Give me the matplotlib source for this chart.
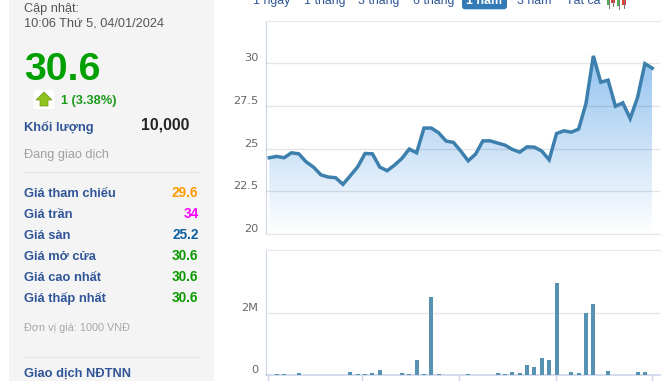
import matplotlib
matplotlib.use('Agg')
import matplotlib.pyplot as plt
from matplotlib.colors import LinearSegmentedColormap
from matplotlib.patches import Rectangle, FancyBboxPatch, Polygon
import numpy as np

W, H = 670, 381

# Gia co phieu theo tuan
price = [24.47, 24.55, 24.47, 24.76, 24.70, 24.23, 23.92, 23.47, 23.34, 23.30,
         22.91, 23.42, 23.94, 24.72, 24.70, 23.92, 23.71, 24.04, 24.43, 24.98,
         24.76, 26.21, 26.21, 25.93, 25.45, 25.37, 24.86, 24.29, 24.68, 25.46,
         25.46, 25.33, 25.21, 24.96, 24.80, 25.11, 25.09, 24.86, 24.35, 25.89,
         26.05, 25.97, 26.15, 27.65, 30.44, 28.90, 29.02, 27.49, 27.69, 26.77,
         28.00, 29.99, 29.72]

# Khoi luong (index, value)
vol_idx = [1, 2, 4, 11, 12, 13, 14, 15, 18, 19, 20, 21, 22, 23, 27, 31, 32, 33,
           34, 35, 36, 37, 38, 39, 41, 42, 43, 44, 46, 50, 51]
vol_val = [43e3, 43e3, 65e3, 107e3, 43e3, 43e3, 75e3, 172e3, 75e3, 43e3, 495e3,
           43e3, 2.527e6, 43e3, 32e3, 75e3, 43e3, 107e3, 75e3, 333e3, 269e3,
           559e3, 495e3, 2.98e6, 107e3, 75e3, 2.01e6, 2.30e6, 140e3, 107e3, 107e3]

price_ticks = [20, 22.5, 25, 27.5, 30]
price_labels = ['20', '22.5', '25', '27.5', '30']
vol_ticks = [0, 2e6]
vol_labels = ['0', '2M']
date_ticks = [-0.14, 12.63, 25.7, 38.9, 52]

info_labels = ['Giá tham chiếu', 'Giá trần', 'Giá sàn', 'Giá mở cửa', 'Giá cao nhất', 'Giá thấp nhất']
info_values = ['29.6', '34', '25.2', '30.6', '30.6', '30.6']
info_colors = ['#ff9900', '#ff00ff', '#0b5f9e', '#0a9a00', '#0a9a00', '#0a9a00']
tabs = ['1 ngày', '1 tháng', '3 tháng', '6 tháng', '3 năm', 'Tất cả']
tab_x = [253, 304, 358, 413, 517, 566]

plt.rcParams['font.family'] = ['Liberation Sans', 'DejaVu Sans']

fig = plt.figure(figsize=(W / 100, H / 100), dpi=100, facecolor='white')


def axes_px(left, top, right, bottom):
    return fig.add_axes([left / W, (H - bottom) / H, (right - left) / W, (bottom - top) / H])


# fond en pixels pour le panneau de gauche
bg = fig.add_axes([0, 0, 1, 1])
bg.set_xlim(0, W)
bg.set_ylim(H, 0)
bg.axis('off')
bg.add_patch(Rectangle((9, 0), 205, H, color='#f4f4f4', lw=0))


def txt(x, y, s, size, color, **kw):
    bg.text(x, y, s, fontsize=size, color=color, va='baseline', **kw)


BLUE = '#2f5597'
txt(24, 12, 'Cập nhật:', 9.2, '#555555')
txt(24, 27, '10:06 Thứ 5, 04/01/2024', 9.2, '#555555')
txt(24, 80, '30.6', 28.4, '#00a000', fontweight='bold')
bg.add_patch(Rectangle((34, 90), 20, 19, color='white', lw=0))
bg.add_patch(Polygon([(36, 100), (44, 92), (52, 100), (48, 100), (48, 106), (40, 106), (40, 100)],
                     facecolor='#8fc31f', edgecolor='#6a9a10', lw=0.5))
txt(61, 104, '1 (3.38%)', 9.2, '#1a9a1a', fontweight='bold')
txt(24, 131, 'Khối lượng', 9.3, BLUE, fontweight='bold')
txt(141, 129, '10,000', 11.3, '#222222', fontweight='bold')
txt(24, 158, 'Đang giao dịch', 9.2, '#a0a0a0')
bg.plot([24, 199], [171.5, 171.5], color='#e8e8e8', lw=1)

for i in range(len(info_labels)):
    y = 197 + i * 21
    txt(24, y, info_labels[i], 9.3, BLUE, fontweight='bold')
    txt(198.5, y, info_values[i], 9.8, info_colors[i], fontweight='bold', ha='right')

txt(24, 331, 'Đơn vị giá: 1000 VNĐ', 7.8, '#a8a8a8')
bg.plot([24, 199], [356.5, 356.5], color='#e8e8e8', lw=1)
txt(24, 377, 'Giao dịch NĐTNN', 9.3, BLUE, fontweight='bold')

# onglets du haut
for s, x in zip(tabs, tab_x):
    txt(x, 4, s, 8.9, '#2f5597')
bg.add_patch(FancyBboxPatch((462, -6), 45, 15.3, boxstyle='round,pad=0,rounding_size=3',
                            facecolor='#337ab7', edgecolor='none'))
txt(484.5, 4, '1 năm', 8.9, 'white', ha='center', fontweight='bold')
for x, c, y1 in [(608.5, '#4caf50', 5), (613, '#e53935', 3), (618.5, '#4caf50', 6), (624, '#e53935', 5)]:
    bg.plot([x, x], [0, y1 + 2.5], color='#777777', lw=0.7)
    bg.add_patch(Rectangle((x - 1.8, 0), 3.6, y1, color=c, lw=0))

# graphique du prix
x = np.arange(len(price))
XMIN = -0.52
XMAX = 53.05
ax = axes_px(265.5, 21.3, 660, 234)
ax.patch.set_alpha(0)
cmap = LinearSegmentedColormap.from_list('g', ['#ffffff', '#8dbfee'])
grad = np.linspace(1, 0, 256).reshape(-1, 1)
im = ax.imshow(grad, extent=[0, 52, 20, 31], cmap=cmap, vmin=0, vmax=1.02, aspect='auto', zorder=1)
poly = ax.fill_between(x, price, 20, color='none', lw=0)
im.set_clip_path(poly.get_paths()[0], transform=ax.transData)
ax.set_xlim(XMIN, XMAX)
ax.set_ylim(20, 32.47)
ax.plot(x, price, color='#3d80ad', lw=2.5, zorder=3, solid_joinstyle='miter')
ax.set_yticks(price_ticks)
ax.set_yticklabels([])
ax.set_xticks([])
ax.tick_params(length=0)
ax.grid(True, axis='y', color='black', alpha=0.1, lw=1, zorder=2)
ax.set_axisbelow(False)
for v, s in zip(price_ticks, price_labels):
    ax.annotate(s, xy=(0, v), xycoords=('axes fraction', 'data'), xytext=(-7, 0),
                textcoords='offset pixels', ha='right', va='bottom', fontsize=8.2,
                family='DejaVu Sans', color='#666666')
ax.spines['right'].set_visible(False)
ax.spines['left'].set_color('#ccd6eb')
ax.spines['top'].set_color('#e6e6e6')
ax.spines['bottom'].set_color('#e6e6e6')

# graphique du volume
ax2 = axes_px(265.5, 250.4, 660, 375.3)
ax2.patch.set_alpha(0)
ax2.bar(vol_idx, vol_val, width=0.54, color='#5792b3', zorder=3)
ax2.set_xlim(XMIN, XMAX)
ax2.set_ylim(0, 4.03e6)
ax2.set_yticks(vol_ticks)
ax2.set_yticklabels([])
ax2.set_xticks(date_ticks)
ax2.set_xticklabels([])
ax2.tick_params(axis='y', length=0)
ax2.tick_params(axis='x', length=5, color='#ccd6eb', width=1)
ax2.grid(True, axis='y', color='#e6e6e6', lw=1, zorder=1)
for v, s in zip(vol_ticks, vol_labels):
    ax2.annotate(s, xy=(0, v), xycoords=('axes fraction', 'data'), xytext=(-7, 0),
                 textcoords='offset pixels', ha='right', va='bottom', fontsize=8.2,
                 family='DejaVu Sans', color='#666666')
ax2.spines['right'].set_visible(False)
ax2.spines['left'].set_color('#ccd6eb')
ax2.spines['top'].set_color('#e6e6e6')
ax2.spines['bottom'].set_color('#ccd6eb')
ax2.spines['bottom'].set_linewidth(1.2)

fig.savefig('out.png', dpi=100)
